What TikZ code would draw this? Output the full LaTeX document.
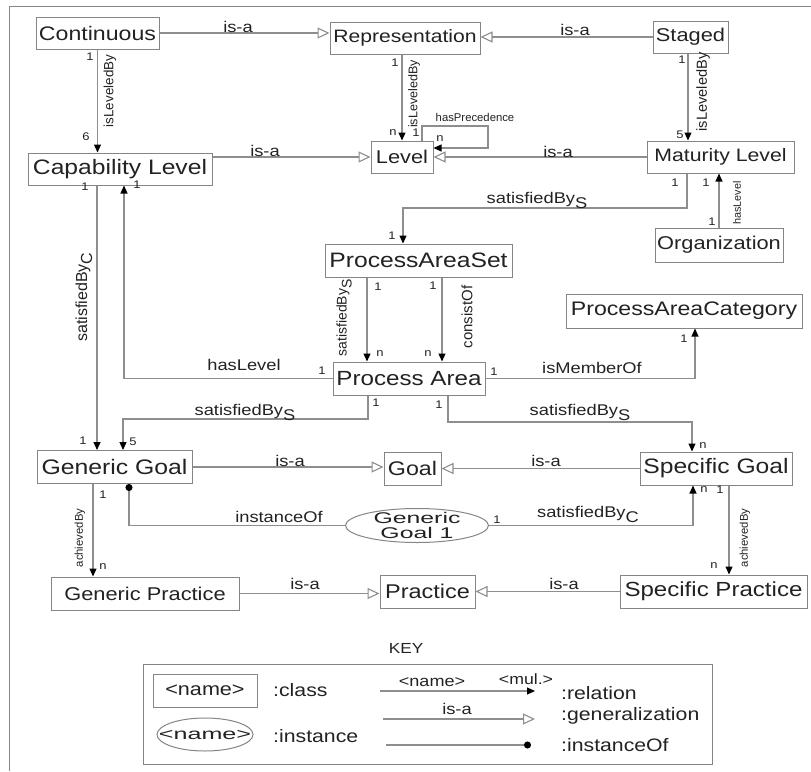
\documentclass[tikz,border=0pt]{standalone}
\usepackage{fontspec}
\setmainfont{Liberation Sans}
\newfontfamily\hfont[FakeStretch=1.18]{Liberation Sans}
\newfontfamily\efont[FakeStretch=1.6]{Liberation Sans}
\usetikzlibrary{arrows.meta,shapes.geometric}
\definecolor{linegray}{HTML}{8E8E8E}
\definecolor{boxgray}{HTML}{858585}
\definecolor{textdark}{HTML}{222222}
\newcommand\lowered[1]{\raisebox{-5pt}{#1}}
\tikzset{
	cbox/.style n args={3}{draw=boxgray, line width=1pt, rectangle, inner sep=0pt, text=textdark, font=\fontsize{#1}{#1}\hfont, minimum width=#2pt, minimum height=#3pt},
	inst/.style 2 args={draw=boxgray, line width=1pt, ellipse, inner sep=0pt, minimum width=#1pt, minimum height=#2pt},
	insttext/.style={inner sep=0pt, text=textdark, align=center, font=\fontsize{15.5}{15}\efont},
	lab/.style={inner sep=0pt, text=textdark, font=\fontsize{#1}{#1}\hfont},
	lab/.default=15.5,
	vlab/.style={inner sep=0pt, text=textdark, rotate=90, font=\fontsize{#1}{#1}\selectfont},
	mul/.style={inner sep=0pt, text=textdark, font=\fontsize{11}{11}\hfont},
	rel/.style={draw=linegray, line width=1.1pt, -{Triangle[length=8pt,width=7pt,color=black]}},
	isa/.style={draw=linegray, line width=1.1pt, -{Triangle[length=12pt,width=11pt,fill=white]}},
	instof/.style={draw=linegray, line width=1.1pt, -{Circle[length=7pt,color=black]}},
}
\begin{document}
\begin{tikzpicture}[x=1pt,y=-1pt]
		\useasboundingbox (0,0) rectangle (811,771);
		\draw[draw=boxgray, line width=1pt] (9,771) -- (9,6) -- (811,6);

		\draw node[cbox={19.6}{123}{32}] (cont) at (97.5,33) {Continuous};
		\draw node[cbox={17.9}{150}{32}] (rep) at (405,38) {Representation};
		\draw node[cbox={18.5}{75}{32}] (stg) at (690.5,37) {Staged};
		\draw node[cbox={20.9}{184}{32}] (caplvl) at (120,169) {Capability Level};
		\draw node[cbox={18.5}{62}{32}] (lvl) at (402,157) {Level};
		\draw node[cbox={18}{147}{32}] (matlvl) at (720.5,157) {Maturity Level};
		\draw node[cbox={18.5}{128}{34}] (org) at (719,245) {Organization};
		\draw node[cbox={20.9}{187}{33}] (pas) at (418.5,260.5) {ProcessAreaSet};
		\draw node[cbox={19.6}{236}{34}] (pac) at (684,311) {ProcessAreaCategory};
		\draw node[cbox={20.5}{152}{33}] (pa) at (409,378.5) {Process Area};
		\draw node[cbox={21}{155}{33}] (gg) at (114.5,467) {Generic Goal};
		\draw node[cbox={19.7}{57}{33}] (goal) at (412.5,468.5) {Goal};
		\draw node[cbox={20.9}{152}{33}] (sg) at (716,468.5) {Specific Goal};
		\draw node[cbox={18.5}{188}{33}] (gp) at (145,593.5) {Generic Practice\hspace{20pt}};
		\draw node[cbox={19.9}{95}{33}] (prac) at (427.5,591.5) {Practice};
		\draw node[cbox={20.4}{187}{33}] (sp) at (713.5,591.5) {Specific Practice};
		\draw node[inst={143}{34}] (gg1) at (417,525.5) {};
		\draw node[insttext] (gg1text) at (gg1.center) {Generic\\Goal 1};

		\coordinate (lp1) at (488,126);
		\coordinate (b1) at (403,208);
		\coordinate (b2) at (123,419);
		\coordinate (b3) at (692,422);

		\draw[isa] (cont.east) -- (cont.east -| rep.west);
		\draw[isa] (stg.west) -- (stg.west -| rep.east);
		\draw[isa] (lvl.west -| caplvl.east) -- (lvl.west);
		\draw[isa] (matlvl.west) -- (matlvl.west -| lvl.east);
		\draw[isa] (gg.east) -- (gg.east -| goal.west);
		\draw[isa] (sg.west) -- (sg.west -| goal.east);
		\draw[isa] (gp.east) -- (gp.east -| prac.west);
		\draw[isa] (sp.west) -- (sp.west -| prac.east);

		\draw[rel] (cont.south) -- (cont.south |- caplvl.north);
		\draw[rel] (lvl.north |- rep.south) -- (lvl.north);
		\draw[rel] ([xshift=-2.5pt]stg.south) -- ([xshift=-2.5pt]stg.south |- matlvl.north);
		\draw[rel] ([xshift=20pt]lvl.north) |- (lp1) |- ([yshift=9pt]lvl.east);
		\draw[rel] ([xshift=-33.5pt]matlvl.south) |- (b1) -- (b1 |- pas.north);
		\draw[rel] (org.north) -- (org.north |- matlvl.south);
		\draw[rel] ([xshift=-23pt]caplvl.south) -- ([xshift=-23pt]caplvl.south |- gg.north);
		\draw[rel] (pa.west) -| ([xshift=4pt]caplvl.south);
		\draw[rel] ([xshift=-51.5pt]pas.south) -- ([xshift=-51.5pt]pas.south |- pa.north);
		\draw[rel] ([xshift=23.5pt]pas.south) -- ([xshift=23.5pt]pas.south |- pa.north);
		\draw[rel] (pa.east) -| ([xshift=11pt]pac.south);
		\draw[rel] ([xshift=-41pt]pa.south) |- (b2) -- (b2 |- gg.north);
		\draw[rel] ([xshift=39pt]pa.south) |- (b3) -- (b3 |- sg.north);
		\draw[rel] ([xshift=-21.5pt]gg.south) -- ([xshift=-21.5pt]gg.south |- gp.north);
		\draw[rel] ([xshift=13pt]sg.south) -- ([xshift=13pt]sg.south |- sp.north);
		\draw[rel] (gg1.east) -| ([xshift=-23pt]sg.south);
		\draw[instof] (gg1.west) -| ([xshift=14.5pt]gg.south);

		\draw node[lab] (isa1) at (238,27) {is-a};
		\draw node[lab] (isa2) at (575,30) {is-a};
		\draw node[lab] (isa3) at (265,151) {is-a};
		\draw node[lab] (isa4) at (558,152) {is-a};
		\draw node[lab] (isa5) at (290,461) {is-a};
		\draw node[lab] (isa6) at (546,461) {is-a};
		\draw node[lab] (isa7) at (305,584) {is-a};
		\draw node[lab] (isa8) at (564,584) {is-a};
		\draw node[inner sep=0pt, text=textdark, font=\fontsize{11.3}{11.3}\selectfont] (prec) at (475,117) {hasPrecedence};
		\draw node[lab] (sats1) at (537,200) {satisfiedBy\lowered{S}};
		\draw node[lab] (sats2) at (245,412) {satisfiedBy\lowered{S}};
		\draw node[lab] (sats3) at (580,412) {satisfiedBy\lowered{S}};
		\draw node[lab] (haslvl) at (244,365) {hasLevel};
		\draw node[lab] (member) at (592,368) {isMemberOf};
		\draw node[lab] (instlab) at (279,517) {instanceOf};
		\draw node[lab] (satc2) at (588,514) {satisfiedBy\lowered{C}};

		\draw node[vlab=13.4] (lev1) at (110,91) {isLeveledBy};
		\draw node[vlab=12.6] (lev2) at (414,94) {isLeveledBy};
		\draw node[vlab=14.6] (lev3) at (703,92) {isLeveledBy};
		\draw node[vlab=10.8] (orglvl) at (737,203) {hasLevel};
		\draw node[vlab=16] (satc1) at (84,297) {satisfiedBy\lowered{C}};
		\draw node[vlab=14] (sats4) at (344,318) {satisfiedBy\lowered{S}};
		\draw node[vlab=15] (cons) at (467,317) {consistOf};
		\draw node[vlab=11.3] (ach1) at (80,538) {achievedBy};
		\draw node[vlab=11.3] (ach2) at (745,538) {achievedBy};

		\draw node[mul] (m1) at (90,57) {1};
		\draw node[mul] (m2) at (86,137) {6};
		\draw node[mul] (m3) at (395,63) {1};
		\draw node[mul] (m4) at (393,133) {n};
		\draw node[mul] (m5) at (416,133) {1};
		\draw node[mul] (m6) at (440,139) {n};
		\draw node[mul] (m7) at (682,60) {1};
		\draw node[mul] (m8) at (680,135) {5};
		\draw node[mul] (m9) at (675,183) {1};
		\draw node[mul] (m10) at (392,236) {1};
		\draw node[mul] (m11) at (706,183) {1};
		\draw node[mul] (m12) at (712,222) {1};
		\draw node[mul] (m13) at (85,187) {1};
		\draw node[mul] (m14) at (83,441) {1};
		\draw node[mul] (m15) at (322,371) {1};
		\draw node[mul] (m16) at (137,185) {1};
		\draw node[mul] (m17) at (378,287) {1};
		\draw node[mul] (m18) at (380,354) {n};
		\draw node[mul] (m19) at (433,286) {1};
		\draw node[mul] (m20) at (428,354) {n};
		\draw node[mul] (m21) at (494,372) {1};
		\draw node[mul] (m22) at (684,339) {1};
		\draw node[mul] (m23) at (376,403) {1};
		\draw node[mul] (m24) at (133,442) {5};
		\draw node[mul] (m25) at (439,405) {1};
		\draw node[mul] (m26) at (703,446) {n};
		\draw node[mul] (m27) at (103,495) {1};
		\draw node[mul] (m28) at (103,567) {n};
		\draw node[mul] (m29) at (720,490) {1};
		\draw node[mul] (m30) at (714,566) {n};
		\draw node[mul] (m31) at (497,520) {1};
		\draw node[mul] (m32) at (704,490) {n};

		\draw node[lab=14.6] (keytitle) at (406,648) {KEY};
		\draw node[draw=boxgray, line width=1pt, minimum width=569pt, minimum height=100pt] (keyframe) at (427.5,714) {};
		\draw node[cbox={18.3}{104}{33}] (keycls) at (205,690.5) {<name>};
		\draw node[inst={96}{33}] (keyinst) at (205,734.5) {};
		\draw node[insttext, font=\fontsize{15.7}{15.7}\efont] (keyinsttext) at (keyinst.center) {<name>};
		\draw node[lab=18, anchor=west] (keyclslab) at (273,690) {:class};
		\draw node[lab=18, anchor=west] (keyinstlab) at (273,736) {:instance};

		\coordinate (ka1) at (380,691);
		\coordinate (kb1) at (535,691);
		\coordinate (ka2) at (383,719);
		\coordinate (kb2) at (535,719);
		\coordinate (ka3) at (386,745);
		\coordinate (kb3) at (531,745);
		\draw[rel] (ka1) -- (kb1);
		\draw[isa] (ka2) -- (kb2);
		\draw[instof] (ka3) -- (kb3);

		\draw node[lab=15.3] (keyname) at (432,682) {<name>};
		\draw node[lab=15] (keymul) at (526,679) {<mul.>};
		\draw node[lab] (keyisa) at (457,709) {is-a};
		\draw node[lab=18, anchor=west] (keyrel) at (561,693) {:relation};
		\draw node[lab=18, anchor=west] (keygen) at (561,716) {:generalization};
		\draw node[lab=18, anchor=west] (keyinstof) at (561,745) {:instanceOf};
\end{tikzpicture}
\end{document}
